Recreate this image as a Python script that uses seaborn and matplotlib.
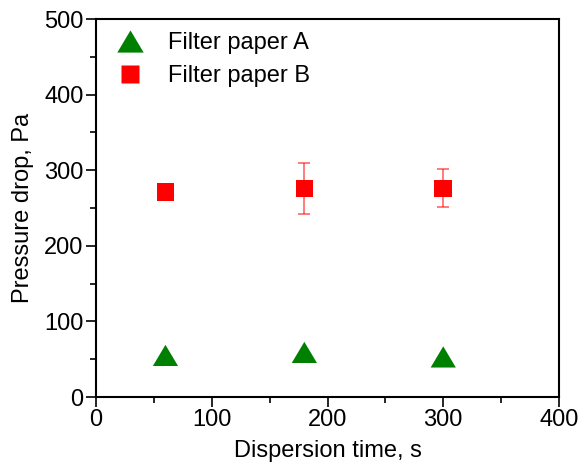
import matplotlib
matplotlib.use("Agg")
import matplotlib.pyplot as plt
import seaborn as sns
import pandas as pd
from matplotlib.path import Path
from matplotlib.lines import Line2D
from matplotlib.ticker import MultipleLocator

# Data
times = [60, 180, 300]
paper_a = [55, 59, 53]
paper_b = [271, 276, 276]
paper_b_err = [0, 34, 25]
series_names = ["Filter paper A", "Filter paper B"]

df = pd.DataFrame({
    "time": times * 2,
    "dp": paper_a + paper_b,
    "series": [series_names[0]] * 3 + [series_names[1]] * 3,
})

sns.set_theme(style="ticks")
plt.rcParams["font.family"] = ["Liberation Sans", "DejaVu Sans"]
plt.rcParams["text.color"] = "black"
plt.rcParams["axes.labelcolor"] = "black"
plt.rcParams["xtick.color"] = "black"
plt.rcParams["ytick.color"] = "black"

fig = plt.figure(figsize=(5.81, 4.66), dpi=100)
ax = fig.add_axes([96 / 581, 1 - 397 / 466, (559 - 96) / 581, (397 - 19) / 466])

tri = Path([(-1, -0.84), (1, -0.84), (0, 0.84), (-1, -0.84)],
           [Path.MOVETO, Path.LINETO, Path.LINETO, Path.CLOSEPOLY])
green = "#008000"
red = "#ff0000"

ax.errorbar(times, paper_b, yerr=paper_b_err, fmt="none", ecolor=red, alpha=0.6,
            elinewidth=1.2, capsize=4, capthick=1.2, zorder=2)

sub_a = df[df.series == series_names[0]]
sub_b = df[df.series == series_names[1]]
sns.scatterplot(data=sub_a, x="time", y="dp", ax=ax, marker=tri, s=330,
                color=green, edgecolor="none", legend=False, zorder=3)
sns.scatterplot(data=sub_b, x="time", y="dp", ax=ax, marker="s", s=160,
                color=red, edgecolor="none", legend=False, zorder=3)

ax.set_xlim(0, 400)
ax.set_ylim(0, 500)
ax.xaxis.set_major_locator(MultipleLocator(100))
ax.xaxis.set_minor_locator(MultipleLocator(50))
ax.yaxis.set_major_locator(MultipleLocator(100))
ax.yaxis.set_minor_locator(MultipleLocator(50))
ax.tick_params(which="both", direction="out", top=False, right=False,
               color="black", width=1.2)
ax.tick_params(which="major", length=7, labelsize=17, pad=2, labelcolor="black")
ax.tick_params(which="minor", length=4)
for sp in ax.spines.values():
    sp.set_visible(True)
    sp.set_color("black")
    sp.set_linewidth(1.5)

ax.set_xlabel("Dispersion time, s", fontsize=17, labelpad=6, color="black")
ax.set_ylabel("Pressure drop, Pa", fontsize=17, labelpad=7, color="black")

handles = [
    Line2D([], [], linestyle="none", marker=tri, markersize=19, color=green,
           markeredgecolor="none"),
    Line2D([], [], linestyle="none", marker="s", markersize=12.5, color=red,
           markeredgecolor="none"),
]
ax.legend(handles, series_names, loc="upper left", frameon=False, fontsize=17,
          handletextpad=0.6, borderaxespad=0.0, labelspacing=0.45,
          bbox_to_anchor=(0.003, 0.99))

fig.savefig("out.png", dpi=100)
